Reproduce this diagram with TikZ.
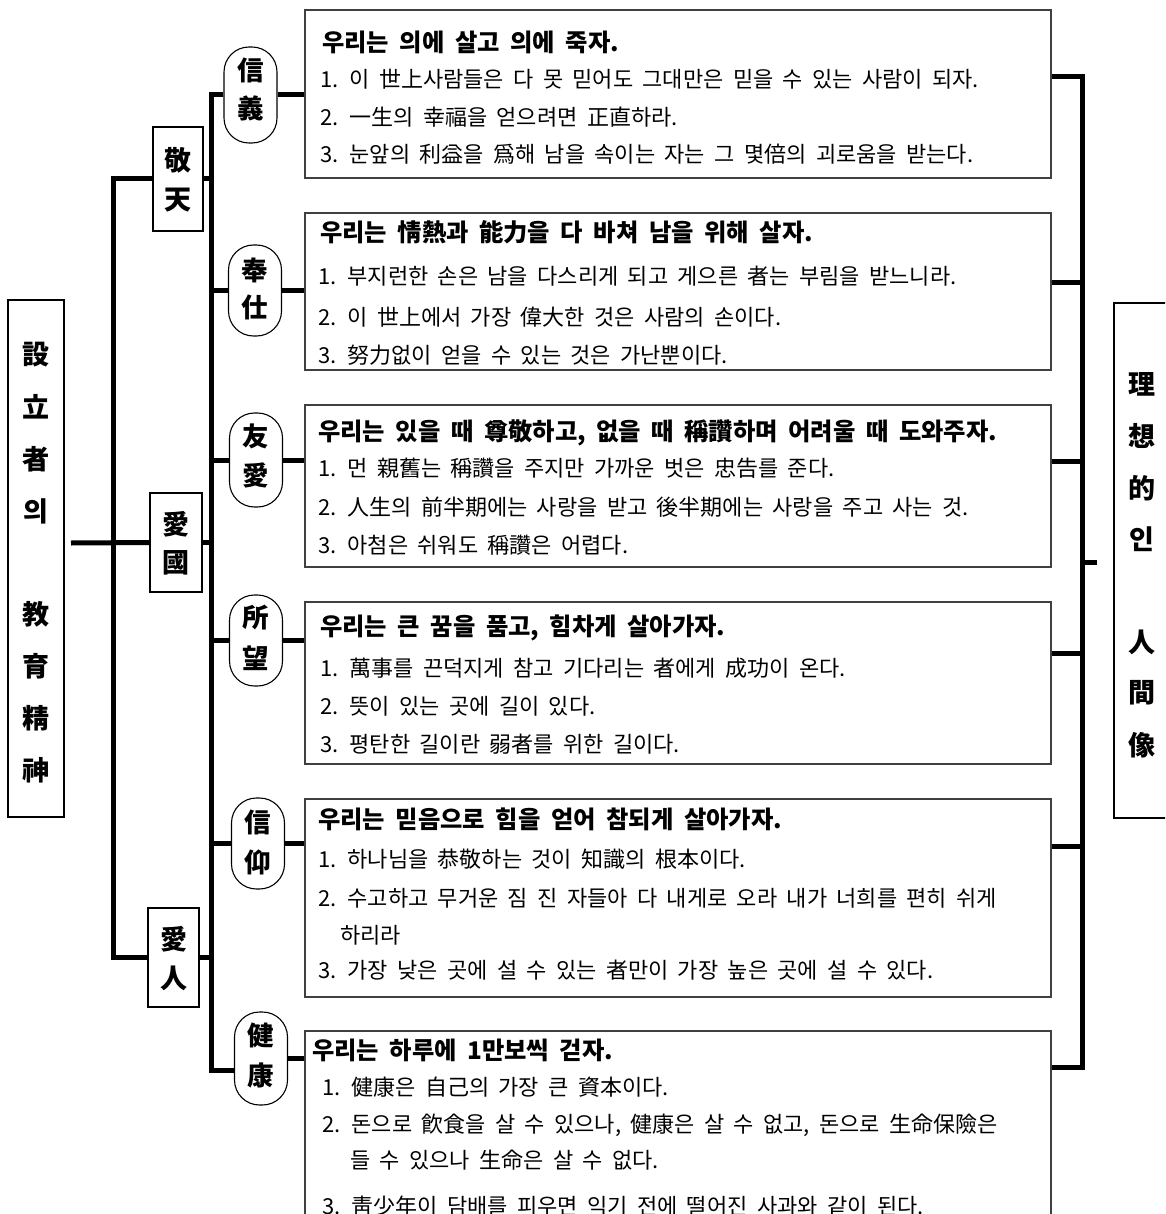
\documentclass[tikz,border=0pt]{standalone}
\usepackage{fontspec}
\setmainfont{Noto Sans CJK KR}[WordSpace=1.9]
\begin{document}
\begin{tikzpicture}[x=1pt,y=-1pt,
  conn/.style={line width=5pt, line join=miter},
  sidebox/.style={draw, line width=1.2pt, inner sep=0pt},
  ovalbox/.style={draw, line width=1.1pt, rounded corners=25pt, inner sep=0pt, minimum width=53pt},
  textbox/.style={draw=black!75, line width=1.4pt, inner sep=0pt, minimum width=746pt},
  ch/.style={inner sep=0pt, font=\fontsize{27}{27}\selectfont\bfseries},
  och/.style={inner sep=0pt, font=\fontsize{26.5}{27}\selectfont\bfseries},
  ttl/.style={anchor=base west, inner sep=0pt, font=\fontsize{24.3}{25}\selectfont\bfseries},
  body/.style={anchor=base west, inner sep=0pt, font=\fontsize{22}{22}\selectfont},
]
\clip (0,0) rectangle (1165,1214);
\fill[white] (0,0) rectangle (1165,1214);

% left main box
\node[sidebox, minimum width=56pt, minimum height=517pt] (L) at (36,558.5) {};
\foreach \c/\y [count=\i] in {設/355,立/407,者/459,의/511,教/614,育/666,精/718,神/770}
  \node[ch] (Lc\i) at (36,\y) {\c};

% right main box
\node[sidebox, minimum width=61pt, minimum height=515pt] (R) at (1144.5,560.5) {};
\foreach \c/\y [count=\i] in {理/384,想/436,的/488,인/539,人/642,間/693,像/745}
  \node[ch] (Rc\i) at (1142,\y) {\c};

% second level boxes
\node[sidebox, minimum width=50pt, minimum height=104pt] (gyeong) at (178,179) {};
\node[ch] (gyeong1) at (178,160) {敬};
\node[ch] (gyeong2) at (178,200) {天};
\node[sidebox, minimum width=52pt, minimum height=99pt] (aeguk) at (176,542.5) {};
\node[ch] (aeguk1) at (176,524) {愛};
\node[ch] (aeguk2) at (176,563) {國};
\node[sidebox, minimum width=51pt, minimum height=99pt] (aein) at (173.5,957.5) {};
\node[ch] (aein1) at (173.5,939) {愛};
\node[ch] (aein2) at (173.5,978) {人};

% ovals
\node[ovalbox, minimum height=96pt] (sinui) at (250.5,95) {};
\node[och] (sinui1) at (250.5,70) {信};
\node[och] (sinui2) at (250.5,108) {義};
\node[ovalbox, minimum height=91pt] (bongsa) at (255,290.5) {};
\node[och] (bongsa1) at (255,270) {奉};
\node[och] (bongsa2) at (255,307) {仕};
\node[ovalbox, minimum height=94pt] (uae) at (256,460) {};
\node[och] (uae1) at (256,436) {友};
\node[och] (uae2) at (256,475) {愛};
\node[ovalbox, minimum height=91pt] (somang) at (256,640.5) {};
\node[och] (somang1) at (256,618) {所};
\node[och] (somang2) at (256,658) {望};
\node[ovalbox, minimum height=91pt] (sinang) at (258,843.5) {};
\node[och] (sinang1) at (258,822) {信};
\node[och] (sinang2) at (258,862) {仰};
\node[ovalbox, minimum height=93pt] (keon) at (261,1058.5) {};
\node[och] (keon1) at (261,1035) {健};
\node[och] (keon2) at (261,1075) {康};

% text boxes
\node[textbox, minimum height=168pt] (b1) at (678,94) {};
\node[textbox, minimum height=157pt] (b2) at (678,291.5) {};
\node[textbox, minimum height=162pt] (b3) at (678,486) {};
\node[textbox, minimum height=162pt] (b4) at (678,683) {};
\node[textbox, minimum height=198pt] (b5) at (678,898) {};
\node[textbox, minimum height=209pt] (b6) at (678,1135.5) {};

% texts box 1
\node[ttl] (b1t) at (322,52) {우리는 의에 살고 의에 죽자.};
\node[body] (b1a) at (320,88) {1. 이 世上사람들은 다 못 믿어도 그대만은 믿을 수 있는 사람이 되자.};
\node[body] (b1b) at (320,126) {2. 一生의 幸福을 얻으려면 正直하라.};
\node[body] (b1c) at (320,163) {3. 눈앞의 利益을 爲해 남을 속이는 자는 그 몇倍의 괴로움을 받는다.};
% box 2
\node[ttl] (b2t) at (320,242) {우리는 情熱과 能力을 다 바쳐 남을 위해 살자.};
\node[body] (b2a) at (318,285) {1. 부지런한 손은 남을 다스리게 되고 게으른 者는 부림을 받느니라.};
\node[body] (b2b) at (318,325) {2. 이 世上에서 가장 偉大한 것은 사람의 손이다.};
\node[body] (b2c) at (318,363) {3. 努力없이 얻을 수 있는 것은 가난뿐이다.};
% box 3
\node[ttl] (b3t) at (318,440) {우리는 있을 때 尊敬하고, 없을 때 稱讚하며 어려울 때 도와주자.};
\node[body] (b3a) at (318,476) {1. 먼 親舊는 稱讚을 주지만 가까운 벗은 忠告를 준다.};
\node[body] (b3b) at (318,515) {2. 人生의 前半期에는 사랑을 받고 後半期에는 사랑을 주고 사는 것.};
\node[body] (b3c) at (318,553) {3. 아첨은 쉬워도 稱讚은 어렵다.};
% box 4
\node[ttl] (b4t) at (320,635) {우리는 큰 꿈을 품고, 힘차게 살아가자.};
\node[body] (b4a) at (320,676) {1. 萬事를 끈덕지게 참고 기다리는 者에게 成功이 온다.};
\node[body] (b4b) at (320,714) {2. 뜻이 있는 곳에 길이 있다.};
\node[body] (b4c) at (320,752) {3. 평탄한 길이란 弱者를 위한 길이다.};
% box 5
\node[ttl] (b5t) at (318,828) {우리는 믿음으로 힘을 얻어 참되게 살아가자.};
\node[body] (b5a) at (318,867) {1. 하나님을 恭敬하는 것이 知識의 根本이다.};
\node[body] (b5b) at (318,906) {2. 수고하고 무거운 짐 진 자들아 다 내게로 오라 내가 너희를 편히 쉬게};
\node[body] (b5c) at (340,943) {하리라};
\node[body] (b5d) at (318,978) {3. 가장 낮은 곳에 설 수 있는 者만이 가장 높은 곳에 설 수 있다.};
% box 6
\node[ttl] (b6t) at (312,1059) {우리는 하루에 1만보씩 걷자.};
\node[body] (b6a) at (322,1095) {1. 健康은 自己의 가장 큰 資本이다.};
\node[body] (b6b) at (322,1132) {2. 돈으로 飮食을 살 수 있으나, 健康은 살 수 없고, 돈으로 生命保險은};
\node[body] (b6c) at (350,1168) {들 수 있으나 生命은 살 수 없다.};
\node[body] (b6d) at (322,1214) {3. 靑少年이 담배를 피우면 익기 전에 떨어진 사과와 같이 된다.};

% connectors
\coordinate (t1) at (113,0);
\coordinate (t2) at (211,0);
\coordinate (t3) at (1082,0);
\coordinate (lstart) at (71,543);
\coordinate (kbot) at (0,1070);
\coordinate (r1) at (0,77);
\coordinate (r2) at (0,283);
\coordinate (r3) at (0,461);
\coordinate (r4) at (0,653);
\coordinate (r5) at (0,846);
\coordinate (r6) at (0,1067);
\coordinate (rend) at (1097,562);

\draw[conn] (lstart) -- (aeguk.west);
\draw[conn] (gyeong.west) -- (t1 |- gyeong.west) -- (t1 |- aein.west) -- (aein.west);
\draw[conn] (gyeong.east) -- (t2 |- gyeong.east);
\draw[conn] (aeguk.east) -- (t2 |- aeguk.east);
\draw[conn] (aein.east) -- (t2 |- aein.east);
\draw[conn] (sinui.west) -- (t2 |- sinui.west) -- (t2 |- kbot) -- (keon.west |- kbot);
\draw[conn] (t2 |- bongsa.west) -- (bongsa.west);
\draw[conn] (t2 |- uae.west) -- (uae.west);
\draw[conn] (t2 |- somang.west) -- (somang.west);
\draw[conn] (t2 |- sinang.west) -- (sinang.west);

\draw[conn] (sinui.east) -- (b1.west |- sinui.east);
\draw[conn] (bongsa.east) -- (b2.west |- bongsa.east);
\draw[conn] (uae.east) -- (b3.west |- uae.east);
\draw[conn] (somang.east) -- (b4.west |- somang.east);
\draw[conn] (sinang.east) -- (b5.west |- sinang.east);
\draw[conn] (keon.east) -- (b6.west |- keon.east);

\draw[conn] (b1.east |- r1) -- (t3 |- r1) -- (t3 |- r6) -- (b6.east |- r6);
\draw[conn] (b2.east |- r2) -- (t3 |- r2);
\draw[conn] (b3.east |- r3) -- (t3 |- r3);
\draw[conn] (b4.east |- r4) -- (t3 |- r4);
\draw[conn] (b5.east |- r5) -- (t3 |- r5);
\draw[conn] (t3 |- rend) -- (rend);
\end{tikzpicture}
\end{document}
